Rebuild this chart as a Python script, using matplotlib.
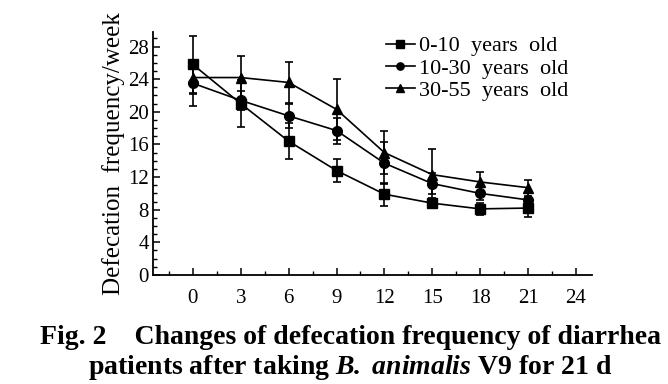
import matplotlib
matplotlib.use("Agg")
import matplotlib.pyplot as plt
from matplotlib.ticker import MultipleLocator
from matplotlib.lines import Line2D

days = [0, 3, 6, 9, 12, 15, 18, 21]
labels = ["0-10  years  old", "10-30  years  old", "30-55  years  old"]
g1 = [25.8, 21.0, 16.4, 12.8, 9.9, 8.8, 8.1, 8.2]
g1_err = [3.5, 2.9, 2.2, 1.4, 1.4, 0.6, 0.7, 1.1]
g2 = [23.5, 21.4, 19.5, 17.7, 13.7, 11.2, 10.0, 9.2]
g2_err = [2.8, 1.2, 1.5, 1.6, 2.6, 1.3, 0.8, 0.8]
g3 = [24.2, 24.2, 23.6, 20.3, 15.0, 12.3, 11.4, 10.7]
g3_err = [2.0, 2.6, 2.5, 3.7, 2.6, 3.1, 1.2, 1.0]

plt.rcParams['font.family'] = ['Liberation Serif', 'DejaVu Serif']
plt.rcParams['mathtext.fontset'] = 'custom'
plt.rcParams['mathtext.rm'] = 'Liberation Serif'
plt.rcParams['mathtext.it'] = 'Liberation Serif:italic'
plt.rcParams['mathtext.bf'] = 'Liberation Serif:bold'
plt.rcParams['mathtext.bfit'] = 'Liberation Serif:italic:bold'

fig = plt.figure(figsize=(6.68, 3.84), dpi=100)
ax = fig.add_axes([0.229, 0.284, 0.657, 0.633])

series = [(g1, g1_err, 's', 7.5, labels[0]),
          (g2, g2_err, 'o', 7, labels[1]),
          (g3, g3_err, '^', 7.5, labels[2])]
handles = []
for vals, err, mk, ms, lab in series:
    ax.errorbar(days, vals, yerr=err, color='black', marker=mk, markersize=ms,
                linewidth=1.2, elinewidth=1.2, capsize=3, capthick=1.2)
    handles.append(Line2D([], [], color='black', marker=mk, markersize=ms * 0.75,
                          linewidth=1.2, label=lab))

ax.set_xlim(-2.5, 25)
ax.set_ylim(0, 29.8)
ax.xaxis.set_major_locator(MultipleLocator(3))
ax.xaxis.set_minor_locator(MultipleLocator(1.5))
ax.yaxis.set_major_locator(MultipleLocator(4))
ax.yaxis.set_minor_locator(MultipleLocator(1))
for s in ['top', 'right']:
    ax.spines[s].set_visible(False)
for s in ['left', 'bottom']:
    ax.spines[s].set_linewidth(1.3)
ax.tick_params(which='major', direction='in', length=5, width=1.1, labelsize=15)
ax.tick_params(which='minor', direction='in', length=3, width=1.0)
ax.tick_params(axis='x', pad=10)
ax.tick_params(axis='y', pad=3)
ax.set_ylabel("Defecation  frequency/week", fontsize=18, labelpad=2)

ax.legend(handles=handles, loc='upper left', bbox_to_anchor=(0.51, 1.02), frameon=False,
          fontsize=16, handlelength=1.3, handletextpad=0.2, labelspacing=0.08,
          borderaxespad=0)

fig.text(0.525, 0.122, "Fig. 2    Changes of defecation frequency of diarrhea",
         ha='center', va='center', fontsize=20, fontweight='bold')
fig.text(0.525, 0.044, "patients after taking $\\mathbfit{B.}$ $\\mathbfit{animalis}$ V9 for 21 d",
         ha='center', va='center', fontsize=20, fontweight='bold')

fig.savefig("out.png", dpi=100)
